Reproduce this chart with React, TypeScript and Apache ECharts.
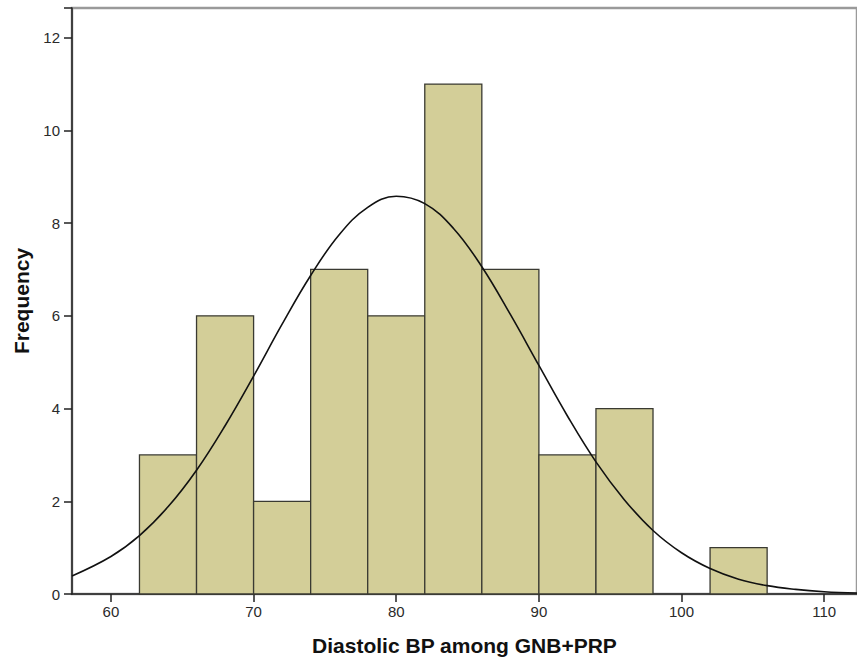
import React, { useEffect, useRef } from "react";
import * as echarts from "echarts";

const binStarts = [62, 66, 70, 74, 78, 82, 86, 90, 94, 98, 102];
const binWidth = 4;
const counts = [3, 6, 2, 7, 6, 11, 7, 3, 4, 0, 1];

const curveX = [57.27, 60, 62, 64, 66, 68, 70, 72, 74, 76, 78, 80, 82, 84, 86, 88, 90, 92, 94, 96, 98, 100, 102, 104, 106, 108, 110, 112.3];
const curveY = [0.39, 0.81, 1.26, 1.88, 2.67, 3.63, 4.7, 5.82, 6.87, 7.75, 8.34, 8.58, 8.42, 7.89, 7.06, 6.03, 4.93, 3.84, 2.85, 2.03, 1.37, 0.89, 0.55, 0.32, 0.18, 0.1, 0.05, 0.02];

const xTicks = [60, 70, 80, 90, 100, 110];

export default function App() {
  const ref = useRef<HTMLDivElement>(null);
  useEffect(() => {
    const chart = echarts.init(ref.current!, null, { renderer: "svg" });
    const barData = binStarts
      .map((s, i) => [s, s + binWidth, counts[i]])
      .filter((d) => d[2] > 0);
    chart.setOption({
      animation: false,
      backgroundColor: "#ffffff",
      grid: {
        left: 72,
        top: 8,
        right: 0,
        bottom: 70,
        show: true,
        borderColor: "#9a9a9a",
        borderWidth: 2.5,
        backgroundColor: "transparent",
      },
      xAxis: {
        type: "value",
        min: 57.27,
        max: 112.3,
        interval: 10,
        name: "Diastolic BP among GNB+PRP",
        nameLocation: "middle",
        nameGap: 41,
        nameTextStyle: { fontFamily: "Liberation Sans", fontWeight: "bold", fontSize: 21, color: "#111" },
        axisLine: { show: true, onZero: false, lineStyle: { color: "#222", width: 1.5 } },
        axisTick: { show: true, length: 8, lineStyle: { color: "#222", width: 1.5 }, customValues: xTicks },
        axisLabel: {
          fontFamily: "Liberation Sans",
          fontSize: 15,
          color: "#2a2a2a",
          margin: 10,
          customValues: xTicks,
        },
        splitLine: { show: false },
      },
      yAxis: {
        type: "value",
        min: 0,
        max: 12.64,
        interval: 2,
        name: "Frequency",
        nameLocation: "middle",
        nameGap: 40,
        nameRotate: 90,
        nameTextStyle: { fontFamily: "Liberation Sans", fontWeight: "bold", fontSize: 21, color: "#111" },
        axisLine: { show: true, lineStyle: { color: "#222", width: 1.5 } },
        axisTick: { show: true, length: 8, lineStyle: { color: "#222", width: 1.5 } },
        axisLabel: {
          fontFamily: "Liberation Sans",
          fontSize: 15,
          color: "#2a2a2a",
          margin: 12,
          formatter: (v: number) => (Math.abs(v - Math.round(v)) < 1e-6 && Math.round(v) % 2 === 0 ? String(Math.round(v)) : ""),
        },
        splitLine: { show: false },
      },
      series: [
        {
          type: "custom",
          data: barData,
          encode: { x: [0, 1], y: 2 },
          renderItem: (params: any, api: any) => {
            const p0 = api.coord([api.value(0), api.value(2)]);
            const p1 = api.coord([api.value(1), 0]);
            return {
              type: "rect",
              shape: { x: p0[0], y: p0[1], width: p1[0] - p0[0], height: p1[1] - p0[1] },
              style: { fill: "#d3ce98", stroke: "#3a3a32", lineWidth: 1.3 },
            };
          },
          z: 2,
        },
        {
          type: "line",
          data: curveX.map((x, i) => [x, curveY[i]]),
          smooth: 0.4,
          showSymbol: false,
          symbol: "none",
          lineStyle: { color: "#111", width: 1.6 },
          z: 3,
        },
      ],
    });
    return () => chart.dispose();
  }, []);
  return <div ref={ref} style={{ position: "fixed", left: 0, top: 0, width: 857, height: 664 }} />;
}
